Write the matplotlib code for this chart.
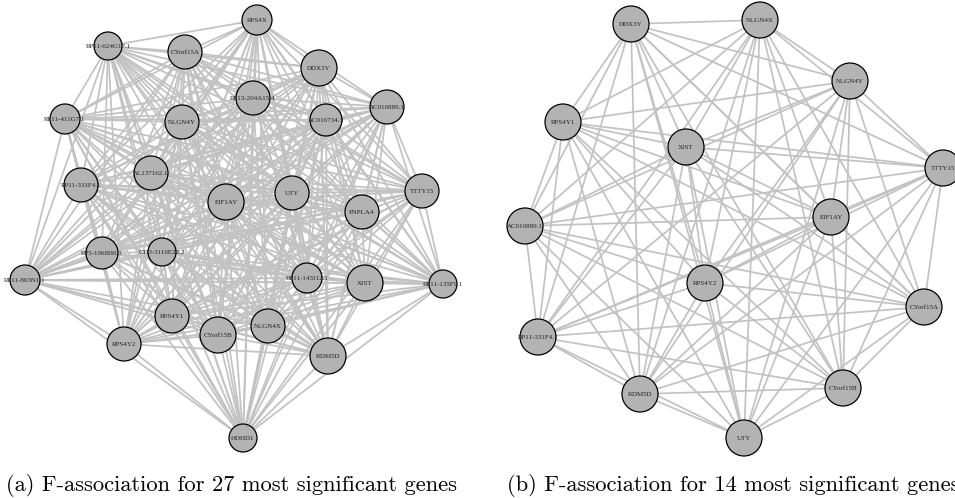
import itertools
import matplotlib.pyplot as plt
from matplotlib.patches import Circle

# panel (a): 27 genes, node centres (pixels)
genes_a = ["RPS4X", "RP11-624G17.1", "CYorf15A", "DDX3Y", "RP13-204A15.4",
           "AC016734.3", "AC010889.1", "RP11-411G7.1", "NLGN4Y", "AL137162.1",
           "RP11-331F4.1", "EIF1AY", "UTY", "PNPLA4", "TTTY15",
           "RP5-1068H6.3", "CTD-3116E22.2", "RP11-863N1.1", "RPS4Y1", "CYorf15B",
           "RPS4Y2", "RP11-143J12.1", "XIST", "RP11-135F9.1", "NLGN4X",
           "KDM5D", "HDHD1"]
x_a = [257, 108, 185, 319, 253, 326, 387, 65, 182, 151, 81, 226, 292, 362, 422,
       102, 162, 25, 172, 218, 124, 307, 365, 443, 268, 328, 243]
y_a = [20, 46, 52, 68, 98, 120, 107, 119, 122, 173, 185, 202, 193, 212, 191,
       253, 252, 280, 316, 335, 344, 278, 283, 284, 326, 356, 438]
r_a = [15, 14, 17, 18, 17, 16, 17, 15, 17, 17, 17, 18, 17, 17, 17,
       16, 14, 15, 17, 18, 17, 15, 18, 14, 17, 18, 14]

# panel (b): 14 genes
genes_b = ["DDX3Y", "NLGN4X", "NLGN4Y", "RPS4Y1", "XIST", "TTTY15", "AC010889.1",
           "EIF1AY", "RPS4Y2", "RP11-331F4.1", "CYorf15A", "KDM5D", "CYorf15B", "UTY"]
x_b = [631, 760, 850, 563, 686, 943, 525, 831, 705, 538, 924, 640, 843, 744]
y_b = [24, 20, 81, 122, 147, 168, 226, 217, 283, 337, 307, 394, 388, 438]

captions = ["(a) F-association for 27 most significant genes",
            "(b) F-association for 14 most significant genes"]


def draw_net(ax, names, xs, ys, rs):
    for i, j in itertools.combinations(range(len(names)), 2):
        ax.plot([xs[i], xs[j]], [ys[i], ys[j]], color="#c2c2c2", lw=1.25,
                zorder=1, solid_capstyle="butt")
    for name, x, y, r in zip(names, xs, ys, rs):
        ax.add_patch(Circle((x, y), r, facecolor="#b3b3b3", edgecolor="black",
                            lw=0.9, zorder=2))
        ax.text(x, y, name, ha="center", va="center", fontsize=5,
                family="Liberation Serif", color="#222222", zorder=3)


fig = plt.figure(figsize=(9.55, 4.98), dpi=100)
ax = fig.add_axes([0, 0, 1, 1])
ax.set_xlim(0, 955)
ax.set_ylim(498, 0)
ax.set_aspect("equal")
ax.axis("off")

draw_net(ax, genes_a, x_a, y_a, r_a)
draw_net(ax, genes_b, x_b, y_b, [18] * len(genes_b))

ax.text(6, 491, captions[0], ha="left", va="baseline", fontsize=16.2, family="cmr10")
ax.text(507, 491, captions[1], ha="left", va="baseline", fontsize=16.2, family="cmr10")

fig.savefig("out.png", dpi=100)
